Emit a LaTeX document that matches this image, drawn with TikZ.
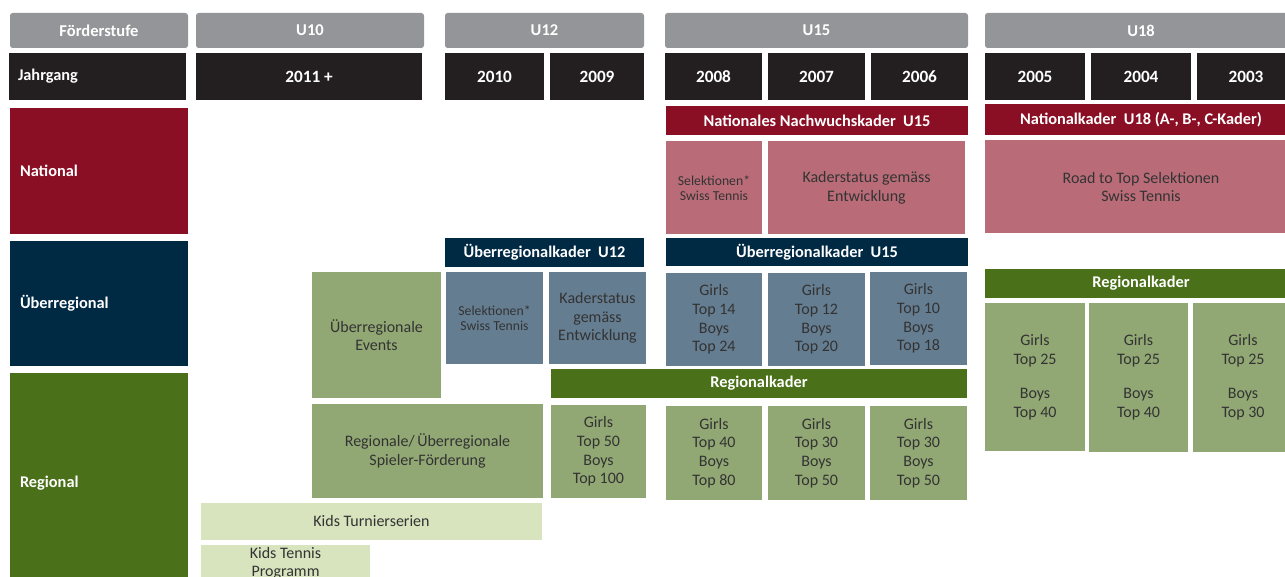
\documentclass[tikz,border=0pt]{standalone}
\usepackage{fontspec}
\setmainfont{Carlito}

\definecolor{hdrgrey}{HTML}{939598}
\definecolor{yearblack}{HTML}{231F20}
\definecolor{natred}{HTML}{8A0E24}
\definecolor{natpink}{HTML}{B96C78}
\definecolor{uebnavy}{HTML}{002944}
\definecolor{uebgrey}{HTML}{657D91}
\definecolor{reggreen}{HTML}{4A7019}
\definecolor{reglight}{HTML}{92A874}
\definecolor{kidspale}{HTML}{D8E4BE}
\definecolor{txtgrey}{HTML}{333333}

\begin{document}
\begin{tikzpicture}[x=0.02cm, y=-0.02cm,
    cell/.style 2 args={inner sep=0pt, minimum width=#1*0.02cm, minimum height=#2*0.02cm, align=center},
    head/.style={fill=hdrgrey, rounded corners=1.5pt, text=white, font=\bfseries\fontsize{9.4}{11}\selectfont},
    year/.style={fill=yearblack, text=white, font=\bfseries\fontsize{9.8}{11}\selectfont},
    bar/.style={text=white, font=\bfseries\fontsize{9.3}{11}\selectfont},
    body/.style={text=txtgrey, font=\fontsize{9.1}{10.6}\selectfont},
    small/.style={text=txtgrey, font=\fontsize{7.8}{8.8}\selectfont},
    rowlbl/.style={text width=#1*0.02cm, align=left, text=white, font=\bfseries\fontsize{9.3}{11}\selectfont}]
\useasboundingbox (0,0) rectangle (1285,577);
\clip (0,0) rectangle (1285,577);
% Foerderstufe / Jahrgang
\node[cell={178}{35}, head] (fstufe) at (99,30.5) {Förderstufe};
\node[cell={228}{35}, head] (u10) at (310,30.5) {U10};
\node[cell={199}{35}, head] (u12) at (544.5,30.5) {U12};
\node[cell={303}{35}, head] (u15) at (816.5,30.5) {U15};
\node[cell={312}{35}, head] (u18) at (1141,30.5) {U18};
\node[cell={177}{47}, year, rowlbl=159] (jahrgang) at (97.5,76.5) {Jahrgang};
\node[cell={226}{47}, year] (y2011) at (309,76.5) {2011 +};
\node[cell={99}{47}, year] (y2010) at (494.5,76.5) {2010}; \node[cell={94}{47}, year] (y2009) at (597,76.5) {2009};
\node[cell={97}{47}, year] (y2008) at (713.5,76.5) {2008}; \node[cell={97}{47}, year] (y2007) at (816.5,76.5) {2007}; \node[cell={97}{47}, year] (y2006) at (919.5,76.5) {2006};
\node[cell={100}{47}, year] (y2005) at (1035,76.5) {2005}; \node[cell={100}{47}, year] (y2004) at (1141,76.5) {2004}; \node[cell={98}{47}, year] (y2003) at (1246,76.5) {2003};
% National
\node[cell={178}{126}, fill=natred, rowlbl=158] (national) at (99,171) {National};
\node[cell={302}{29}, fill=natred, bar] (nnk15) at (817,120.5) {Nationales Nachwuchskader\ \ U15};
\node[cell={96}{93}, fill=natpink, small] (natsel) at (714,188) {Selektionen*\\Swiss Tennis};
\node[cell={197}{93}, fill=natpink, body] (natstat) at (866.5,188) {Kaderstatus gemäss\\Entwicklung};
\node[cell={312}{31}, fill=natred, bar] (nk18) at (1141,119.5) {Nationalkader\ \ U18 (A-, B-, C-Kader)};
\node[cell={312}{93}, fill=natpink, body] (road) at (1141,187) {Road to Top Selektionen\\Swiss Tennis};
% Ueberregional
\node[cell={178}{125}, fill=uebnavy, rowlbl=158] (ueberreg) at (99,303.5) {Überregional};
\node[cell={199}{29}, fill=uebnavy, bar] (uek12) at (544.5,252.5) {Überregionalkader\ \ U12};
\node[cell={302}{28}, fill=uebnavy, bar] (uek15) at (817,252) {Überregionalkader\ \ U15};
\node[cell={97}{92}, fill=uebgrey, small] (uebsel) at (494.5,318) {Selektionen*\\Swiss Tennis};
\node[cell={97}{92}, fill=uebgrey, body] (uebstat) at (597.5,318) {Kaderstatus\\gemäss\\Entwicklung};
\node[cell={96}{93}, fill=uebgrey, body] (ueb08) at (714,319.5) {Girls\\Top 14\\Boys\\Top 24};
\node[cell={97}{93}, fill=uebgrey, body] (ueb07) at (816.5,319.5) {Girls\\Top 12\\Boys\\Top 20};
\node[cell={97}{93}, fill=uebgrey, body] (ueb06) at (918.5,318.5) {Girls\\Top 10\\Boys\\Top 18};
\node[cell={129}{126}, fill=reglight, body] (uebevents) at (376.5,335) {Überregionale\\Events};
% Regional
\node[cell={178}{220}, fill=reggreen, rowlbl=158] (regional) at (99,483) {Regional};
\node[cell={416}{29}, fill=reggreen, bar] (rk15) at (759,383.5) {Regionalkader};
\node[cell={312}{29}, fill=reggreen, bar] (rk18) at (1141,283.5) {Regionalkader};
\node[cell={231}{93}, fill=reglight, body] (spieler) at (427.5,451) {Regionale/\,Überregionale\\Spieler-Förderung};
\node[cell={95}{93}, fill=reglight, body] (reg09) at (598.5,451.5) {Girls\\Top 50\\Boys\\Top 100};
\node[cell={96}{94}, fill=reglight, body] (reg08) at (714,453) {Girls\\Top 40\\Boys\\Top 80};
\node[cell={97}{94}, fill=reglight, body] (reg07) at (816.5,453) {Girls\\Top 30\\Boys\\Top 50};
\node[cell={97}{94}, fill=reglight, body] (reg06) at (918.5,453) {Girls\\Top 30\\Boys\\Top 50};
\node[cell={100}{148}, fill=reglight, body] (reg05) at (1035,377) {Girls\\Top 25\\[9pt]Boys\\Top 40};
\node[cell={99}{149}, fill=reglight, body] (reg04) at (1138.5,377.5) {Girls\\Top 25\\[9pt]Boys\\Top 40};
\node[cell={100}{149}, fill=reglight, body] (reg03) at (1243,377.5) {Girls\\Top 25\\[9pt]Boys\\Top 30};
% Kids
\node[cell={341}{37}, fill=kidspale, body] (kidsturn) at (371.5,521.5) {Kids Turnierserien};
\node[cell={169}{36}, fill=kidspale, body, anchor=north] (kidsprog) at (285.5,545) {Kids Tennis\\Programm};
\end{tikzpicture}
\end{document}
